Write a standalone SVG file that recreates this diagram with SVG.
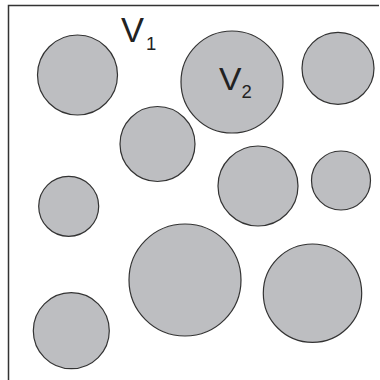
<svg xmlns="http://www.w3.org/2000/svg" width="380" height="380" viewBox="0 0 380 380">
<style>
.c{fill:#bdbec1;stroke:#333;stroke-width:1.2}
.f{fill:none;stroke:#333;stroke-width:1.5}
.t{font-family:"Liberation Sans",Arial,sans-serif;fill:#222}
</style>
<rect width="380" height="380" fill="#fff"/>
<g id="frame"><path class="f" d="M8.5,380 V5.5 H379"/></g>
<g id="particles">
<circle id="p1" class="c" cx="77.5" cy="75" r="40"/>
<circle id="p2" class="c" cx="232" cy="82" r="51"/>
<circle id="p3" class="c" cx="338" cy="68.3" r="36"/>
<circle id="p4" class="c" cx="157.5" cy="144" r="37.5"/>
<circle id="p5" class="c" cx="258" cy="186" r="40"/>
<circle id="p6" class="c" cx="341" cy="180.5" r="29.5"/>
<circle id="p7" class="c" cx="68.7" cy="206.3" r="30"/>
<circle id="p8" class="c" cx="185" cy="280" r="56"/>
<circle id="p9" class="c" cx="312.5" cy="293.2" r="49.2"/>
<circle id="p10" class="c" cx="71.3" cy="330.7" r="38"/>
</g>
<g id="labels">
<text class="t" x="121" y="42.3" font-size="35" textLength="23" lengthAdjust="spacingAndGlyphs">V</text>
<text class="t" x="146" y="50" font-size="18.5">1</text>
<text class="t" x="219" y="90" font-size="31.5" textLength="22.5" lengthAdjust="spacingAndGlyphs">V</text>
<text class="t" x="241.5" y="97.7" font-size="18.5">2</text>
</g>
</svg>
